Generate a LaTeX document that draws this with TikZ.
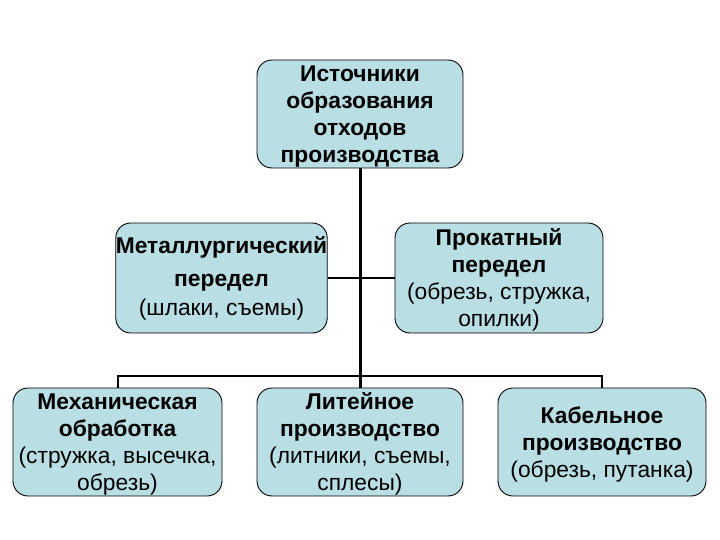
\documentclass[tikz,border=0pt]{standalone}
\usepackage{fontspec}
\setmainfont{Liberation Sans}
\usepackage{xcolor}
\usepackage{tikz}
\usetikzlibrary{positioning, calc}

\definecolor{boxfill}{RGB}{185,222,228}

\begin{document}
\begin{tikzpicture}[x=1pt, y=1pt,
    % Define styles for the nodes
    base_node/.style={rectangle, draw=black, line width=0.9pt, fill=boxfill, rounded corners=15pt,
        align=center, inner sep=0pt, minimum height=108pt, text depth=-3pt,
        font=\fontsize{22.8}{27}\selectfont},
    src_node/.style={base_node, minimum width=206pt},
    mid_node/.style={base_node, minimum width=209pt, minimum height=110pt},
    low_node/.style={base_node, minimum width=208pt},
    % Styles for the connectors
    trunk/.style={line width=3pt},
    bus/.style={line width=2pt}
]
    \useasboundingbox (0,0) rectangle (720,540);

    % =========================================================================
    % TOP - SOURCE NODE
    % =========================================================================
    \node (source) [src_node] at (360,426)
        {\bfseries Источники\\\bfseries образования\\\bfseries отходов\\\bfseries производства};

    % =========================================================================
    % MIDDLE ROW
    % =========================================================================
    \node (metal) [mid_node, text depth=] at (221.5,262)
        {\bfseries Металлургический\\[6pt]\bfseries передел\\[2pt](шлаки, съемы)};
    \node (rolling) [mid_node, minimum width=208pt] at (499,262)
        {\bfseries Прокатный\\\bfseries передел\\(обрезь, стружка,\\опилки)};

    % =========================================================================
    % BOTTOM ROW
    % =========================================================================
    \node (mech) [low_node, minimum width=209pt] at (117.5,98)
        {\bfseries Механическая\\\bfseries обработка\\(стружка, высечка,\\обрезь)};
    \node (casting) [low_node, minimum width=206pt] at (360,98)
        {\bfseries Литейное\\\bfseries производство\\(литники, съемы,\\сплесы)};
    \node (cable) [low_node] at (602,98)
        {\bfseries Кабельное\\\bfseries производство\\(обрезь, путанка)};

    % =========================================================================
    % CONNECTORS
    % =========================================================================
    \coordinate (bus_mid) at (360,164);
    \draw [trunk] (source.south) -- (casting.north);
    \draw [trunk, line width=2.5pt] (metal.east) -- (rolling.west);
    \draw [bus] (mech.north) |- (bus_mid) -| (cable.north);

\end{tikzpicture}
\end{document}
